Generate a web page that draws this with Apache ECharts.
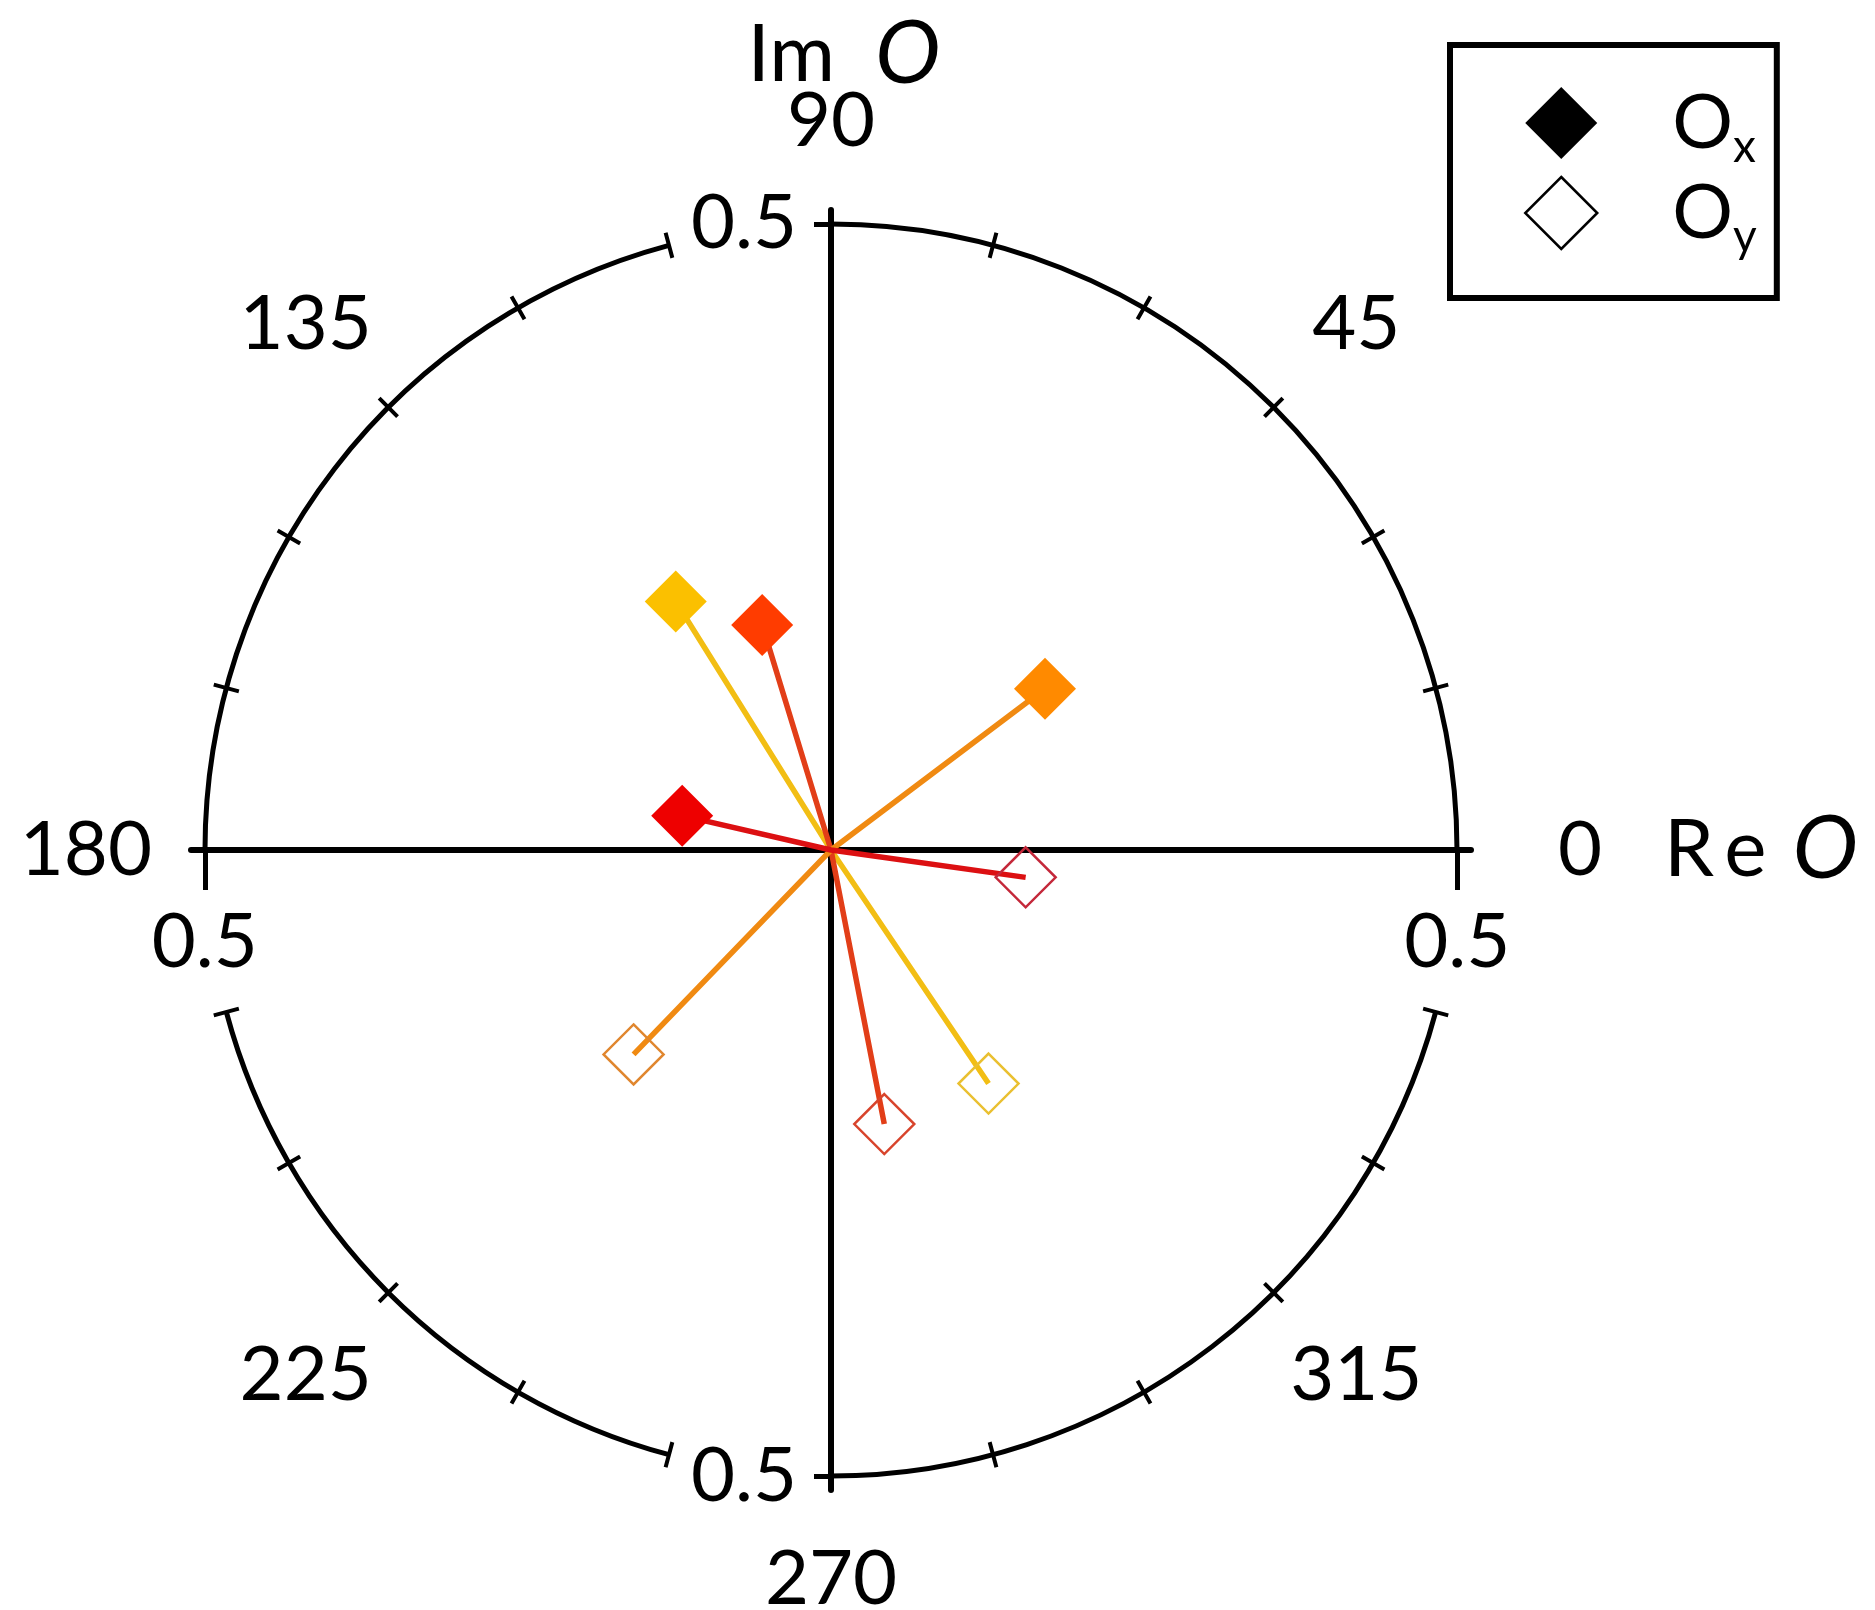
<!DOCTYPE html>
<html><head><meta charset="utf-8">
<script src="https://cdn.jsdelivr.net/npm/echarts@6/dist/echarts.min.js"></script>
<style>html,body{margin:0;padding:0;background:#fff}#chart{width:1875px;height:1610px}</style>
</head><body><div id="chart"></div>
<script>
// ---- data ----
const seriesNames = ['Ox', 'Oy'];
const pairKeys = ['yellow', 'redOrange', 'orange', 'red'];
const oxRadius = [0.234, 0.188, 0.214, 0.122];
const oxPhase  = [122, 107, 37, 167];
const oyRadius = [0.225, 0.223, 0.227, 0.157];
const oyPhase  = [304, 281, 226, 352];
const radiusLabelValues = [-0.5, 0.5];
const angleLabelValues = [0, 45, 90, 135, 180, 225, 270, 315];
const arcSpans = [[0, 90], [105, 180], [195, 255], [270, 345]];
const radiusMax = 0.5;

// ---- styles ----
const filledColors = ['#FBC000', '#FF3C00', '#FF8A00', '#EE0000'];
const openColors   = ['#EAC030', '#D8442C', '#E0862E', '#C4283A'];
const lineColors   = ['#F2BE14', '#E23E18', '#F08A12', '#DC1012'];
const FONT = 'Lato';
const CX = 831, CY = 850, R = 626;
const EXT = 0.511;
const HALF = Math.round(R * EXT / radiusMax);

const chart = echarts.init(document.getElementById('chart'), null, {renderer: 'canvas'});

const polar = [
  {center: [CX, CY], radius: R},
  {center: [CX, CY], radius: [R - 13, R + 13]}
];
const angleAxis = [
  {polarIndex: 0, type: 'value', min: 0, max: 360, startAngle: 0, clockwise: false, show: false},
  {polarIndex: 1, type: 'value', min: 0, max: 360, interval: 15, startAngle: 0, clockwise: false,
   axisLine: {show: false}, axisTick: {show: false},
   splitLine: {show: true, lineStyle: {color: '#000', width: 4}},
   axisLabel: {
     show: true, margin: 12, color: '#000', fontFamily: FONT, fontSize: 76,
     formatter: function (v) {
       if (v === 360 || angleLabelValues.indexOf(v) < 0) return '';
       if (v === 0) return '{zero|0}{r|R}{e|e}{it|O}';
       if (v === 90) return '{im|Im}{iti|O}\n{n90|90}';
       if (v === 180) return '{n180|180}';
       if (v === 270) return '{n270|270}';
       return '{d|' + v + '}';
     },
     rich: {
       d: {fontFamily: FONT, fontSize: 76, color: '#000', width: 130, lineHeight: 130, align: 'center'},
       n90: {fontFamily: FONT, fontSize: 76, lineHeight: 72, color: '#000', padding: [0, 0, 84, 0]},
       n180: {fontFamily: FONT, fontSize: 76, color: '#000', padding: [0, 28, 0, 0]},
       n270: {fontFamily: FONT, fontSize: 76, lineHeight: 70, color: '#000', padding: [86, 0, 0, 0]},
       zero: {fontFamily: FONT, fontSize: 76, color: '#000', padding: [0, 62, 0, 76]},
       r: {fontFamily: FONT, fontSize: 80, color: '#000'},
       e: {fontFamily: FONT, fontSize: 80, color: '#000', padding: [0, 0, 0, 10]},
       it: {fontFamily: FONT, fontSize: 88, fontStyle: 'italic', color: '#000', padding: [0, 0, 0, 26]},
       im: {fontFamily: FONT, fontSize: 80, lineHeight: 60, color: '#000', padding: [0, 0, 84, 26]},
       iti: {fontFamily: FONT, fontSize: 88, lineHeight: 60, fontStyle: 'italic', color: '#000', padding: [0, 0, 84, 40]}
     }
   }}
];
const radiusAxis = [
  {polarIndex: 0, type: 'value', min: 0, max: radiusMax, show: false},
  {polarIndex: 1, type: 'value', min: 0, max: 1, show: false}
];
arcSpans.forEach(function (s, i) {
  polar.push({center: [CX, CY], radius: R});
  angleAxis.push({polarIndex: i + 2, type: 'value', min: s[0], max: s[1],
    startAngle: s[0], endAngle: s[1], clockwise: false,
    axisLine: {show: true, lineStyle: {color: '#000', width: 5}},
    axisTick: {show: false}, axisLabel: {show: false}, splitLine: {show: false}});
  radiusAxis.push({polarIndex: i + 2, type: 'value', min: 0, max: 1, show: false});
});

const series = [];
pairKeys.forEach(function (k, i) {
  series.push({
    name: 'line-' + k, type: 'line', coordinateSystem: 'polar', polarIndex: 0,
    data: [[oxRadius[i], oxPhase[i]], [0, 0], [oyRadius[i], oyPhase[i]]],
    symbol: 'none', lineStyle: {color: lineColors[i], width: 5.5}, z: 3, silent: true
  });
});
series.push({
  name: seriesNames[0], type: 'scatter', coordinateSystem: 'polar', polarIndex: 0,
  symbol: 'diamond', symbolSize: 62, z: 5, itemStyle: {opacity: 1},
  data: pairKeys.map(function (k, i) {
    return {value: [oxRadius[i], oxPhase[i]], itemStyle: {color: filledColors[i], opacity: 1}};
  })
});
series.push({
  name: seriesNames[1], type: 'scatter', coordinateSystem: 'polar', polarIndex: 0,
  symbol: 'diamond', symbolSize: 60, z: 5, itemStyle: {opacity: 1},
  data: pairKeys.map(function (k, i) {
    return {value: [oyRadius[i], oyPhase[i]],
      itemStyle: {color: 'rgba(255,255,255,0)', borderColor: openColors[i], borderWidth: 2.5, opacity: 1}};
  })
});

const axisLabelStyle = {color: '#000', fontFamily: FONT, fontSize: 76};
const fmtAbs = function (v) { return Math.abs(v).toFixed(1); };
const option = {
  backgroundColor: '#fff',
  animation: false,
  polar: polar, angleAxis: angleAxis, radiusAxis: radiusAxis,
  grid: [
    {left: CX - HALF, top: CY - HALF, width: 2 * HALF, height: HALF, containLabel: false, outerBoundsMode: 'none'},
    {left: CX, top: CY - HALF, width: HALF, height: 2 * HALF, containLabel: false, outerBoundsMode: 'none'}
  ],
  xAxis: [
    {gridIndex: 0, type: 'value', position: 'bottom', min: -EXT, max: EXT, splitLine: {show: false},
     axisLine: {onZero: false, lineStyle: {color: '#000', width: 6}},
     axisTick: {show: true, customValues: radiusLabelValues, length: 40, lineStyle: {color: '#000', width: 5}},
     axisLabel: Object.assign({customValues: radiusLabelValues, margin: 54, formatter: fmtAbs}, axisLabelStyle)},
    {gridIndex: 1, type: 'value', min: 0, max: 1, show: false}
  ],
  yAxis: [
    {gridIndex: 0, type: 'value', min: 0, max: 1, show: false},
    {gridIndex: 1, type: 'value', position: 'left', min: -EXT, max: EXT, splitLine: {show: false},
     axisLine: {onZero: false, lineStyle: {color: '#000', width: 6}},
     axisTick: {show: true, customValues: radiusLabelValues, length: 17, lineStyle: {color: '#000', width: 5}},
     axisLabel: Object.assign({customValues: radiusLabelValues, margin: 34, formatter: fmtAbs}, axisLabelStyle)}
  ],
  legend: {
    orient: 'vertical', left: 1450, top: 45,
    padding: [40, 20, 38, 74],
    borderColor: '#000', borderWidth: 6,
    itemWidth: 72, itemHeight: 72, itemGap: 5,
    selectedMode: false,
    data: [
      {name: seriesNames[0], icon: 'diamond', itemStyle: {color: '#000', borderWidth: 0, opacity: 1}},
      {name: seriesNames[1], icon: 'diamond', itemStyle: {color: '#fff', borderColor: '#000', borderWidth: 2.5, opacity: 1}}
    ],
    formatter: function (name) { return '{g|}{o|O}{s|' + name.slice(1) + '}'; },
    textStyle: {
      fontFamily: FONT, fontSize: 76, color: '#000',
      rich: {
        g: {width: 70},
        o: {fontFamily: FONT, fontSize: 76, color: '#000', padding: [7, 0, 7, 0]},
        s: {fontFamily: FONT, fontSize: 46, color: '#000', padding: [48, 0, 0, 0]}
      }
    }
  },
  series: series
};
chart.setOption(option);
</script></body></html>
